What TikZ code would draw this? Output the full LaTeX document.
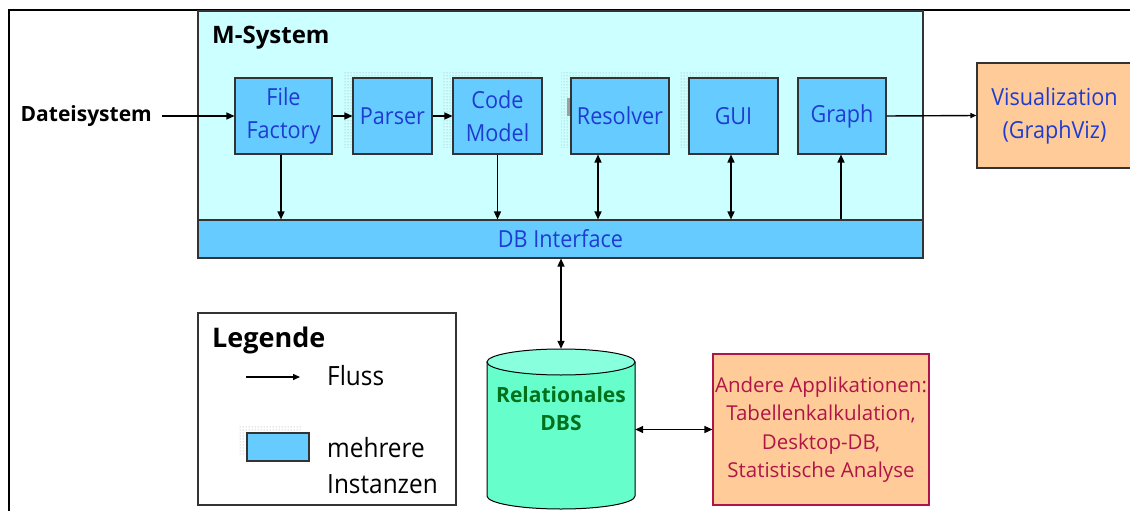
\documentclass[tikz,border=0pt]{standalone}
\usepackage{fontspec}
\setmainfont{Open Sans}
\newfontfamily\narrowfont[FakeStretch=0.92]{Open Sans}
\usetikzlibrary{arrows.meta,patterns,calc}
\definecolor{lightcyan}{HTML}{CCFFFF}
\definecolor{boxblue}{HTML}{66CCFF}
\definecolor{txtblue}{HTML}{1E3CD2}
\definecolor{orangefill}{HTML}{FFCC99}
\definecolor{crimsonc}{HTML}{B01548}
\definecolor{cylbody}{HTML}{66FFCC}
\definecolor{cyltop}{HTML}{88FFDD}
\definecolor{dbsgreen}{HTML}{00701A}
\definecolor{bordergray}{HTML}{333333}
\tikzset{
  blk/.style={draw=bordergray, line width=1.1pt, fill=boxblue, text=txtblue, align=center,
    inner sep=0pt, minimum height=76pt, font=\narrowfont\fontsize{23.5}{33}\selectfont},
  shadowbox/.style={pattern=dots, pattern color=gray!75, draw=none, inner sep=0pt,
    minimum height=76pt},
  flow/.style={line width=1.4pt, -{Triangle[length=8pt,width=7pt]}},
  biflow/.style={line width=1.4pt, {Triangle[length=8pt,width=7pt]}-{Triangle[length=8pt,width=7pt]}},
  legtext/.style={anchor=base west, inner sep=0pt, font=\narrowfont\fontsize{26.5}{30}\selectfont},
}
\begin{document}
\begin{tikzpicture}[x=1pt,y=-1pt]
\useasboundingbox (0,0) rectangle (1130,511);
\clip (0,0) rectangle (1130,511);
% outer frame
\draw[line width=2.2pt] (9,530) -- (9,10) -- (1150,10);
% M-System
\node[draw=bordergray, line width=1.1pt, fill=lightcyan, minimum width=725pt, minimum height=247pt, inner sep=0pt] (msys) at (560.5,134.5) {};
\node[anchor=base west, inner sep=0pt, font=\bfseries\fontsize{24}{28}\selectfont] (mtitle) at (212,44) {M-System};
\node[draw=bordergray, line width=1.1pt, fill=boxblue, minimum width=725pt, minimum height=38pt, inner sep=0pt, text=txtblue, font=\narrowfont\fontsize{23.5}{26}\selectfont] (dbi) at (560.5,239) {DB Interface};
% shadows
\node[shadowbox, minimum width=79pt] (parsh) at (382.5,109) {};
\node[shadowbox, minimum width=89pt] (codesh) at (487.5,109) {};
\node[shadowbox, minimum width=98pt] (ressh) at (610,109) {};
\node[shadowbox, minimum width=89pt] (guish) at (723.5,109) {};
\fill[gray!75] (567,98) rectangle (569.5,116);
\fill[gray!75] (567,98) rectangle (571,100.5);
% component boxes
\node[blk, minimum width=97pt] (ff) at (283.5,116) {File\\Factory};
\node[blk, minimum width=79pt] (par) at (392.5,116) {Parser};
\node[blk, minimum width=89pt] (code) at (497.5,116) {Code\\Model};
\node[blk, minimum width=98pt] (res) at (620,116) {Resolver};
\node[blk, minimum width=89pt] (gui) at (733.5,116) {GUI};
\node[blk, minimum width=88pt] (graph) at (842,116) {Graph};
% external
\node[anchor=east, inner sep=0pt, font=\bfseries\fontsize{21}{25}\selectfont] (dat) at (152,116) {Dateisystem};
\node[draw=bordergray, line width=1.1pt, fill=orangefill, minimum width=155pt, minimum height=105pt, inner sep=0pt, align=center, text=txtblue, font=\narrowfont\fontsize{23.5}{33}\selectfont] (vis) at (1054.5,115.5) {Visualization\\(GraphViz)};
% flows
\draw[flow] ([xshift=10pt]dat.east) -- (ff.west);
\draw[flow] (ff.east) -- (par.west);
\draw[flow] (par.east) -- (code.west);
\draw[flow] ([xshift=-2.5pt]ff.south) -- ([xshift=-2.5pt]ff.south |- dbi.north);
\draw[flow] (code.south) -- (code.south |- dbi.north);
\draw[biflow] ([xshift=-22pt]res.south) -- ([xshift=-22pt]res.south |- dbi.north);
\draw[biflow] ([xshift=-2.5pt]gui.south) -- ([xshift=-2.5pt]gui.south |- dbi.north);
\draw[flow] ([xshift=-1pt]graph.south |- dbi.north) -- ([xshift=-1pt]graph.south);
\draw[line width=1.4pt, -{Triangle[length=6pt,width=5pt]}] (graph.east) -- (vis.west);
% database
\node[minimum width=148pt, minimum height=161pt, inner sep=0pt, draw=none] (dbs) at (561,429.5) {};
\filldraw[fill=cylbody, draw=black, line width=1pt] (487,362) -- (487,496) arc[start angle=180, end angle=360, x radius=74pt, y radius=13pt] -- (635,362) -- cycle;
\filldraw[fill=cyltop, draw=black, line width=1pt] (561,362) ellipse[x radius=74pt, y radius=13pt];
\node[align=center, text=dbsgreen, font=\bfseries\fontsize{21}{28}\selectfont, inner sep=0pt] (dbstext) at (561,409) {Relationales\\DBS};
\draw[biflow] (dbi.south -| dbs.north) -- (dbs.north);
% other applications
\node[draw=crimsonc, line width=1.1pt, fill=orangefill, minimum width=216pt, minimum height=151pt, inner sep=0pt, align=center, text=crimsonc, font=\fontsize{20.5}{28.5}\selectfont] (and) at (821,429.5) {Andere Applikationen:\\Tabellenkalkulation,\\Desktop-DB,\\Statistische Analyse};
\draw[biflow] (dbs.east) -- (and.west);
% legend
\node[draw=bordergray, line width=1.1pt, fill=white, minimum width=258pt, minimum height=192pt, inner sep=0pt] (leg) at (327,409) {};
\node[anchor=base west, inner sep=0pt, font=\bfseries\fontsize{27}{30}\selectfont] (legt) at (212,347) {Legende};
\coordinate (la) at (246,377);
\coordinate (lb) at (300,377);
\draw[line width=1.4pt, -{Triangle[length=7pt,width=6pt]}] (la) -- (lb);
\node[legtext] (fluss) at (327,385) {Fluss};
\node[pattern=dots, pattern color=gray!75, minimum width=62pt, minimum height=28pt, inner sep=0pt] (legsh) at (270,440) {};
\node[draw=bordergray, line width=1.1pt, fill=boxblue, minimum width=62pt, minimum height=28pt, inner sep=0pt] (legbox) at (278,447) {};
\node[legtext] (mehr) at (327,457) {mehrere};
\node[legtext] (inst) at (327,493) {Instanzen};
\end{tikzpicture}
\end{document}
